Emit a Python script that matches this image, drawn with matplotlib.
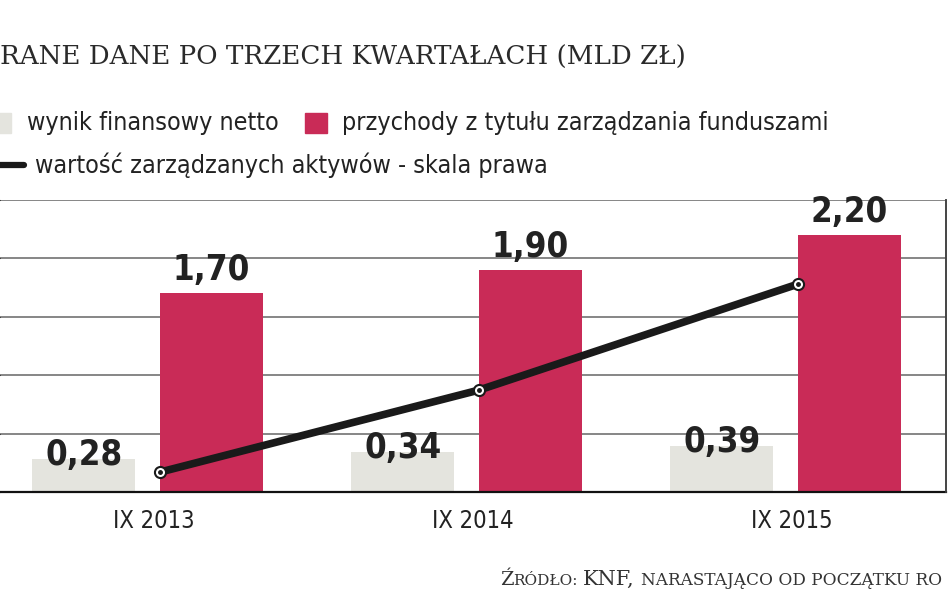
import matplotlib
matplotlib.use("Agg")
import matplotlib.pyplot as plt
import numpy as np
from matplotlib.patches import Rectangle
from matplotlib.lines import Line2D

# dane
kategorie = ["IX 2013", "IX 2014", "IX 2015"]
wynik_netto = [0.28, 0.34, 0.39]
przychody = [1.70, 1.90, 2.20]
aktywa = [206.8, 234.9, 271.2]   # skala prawa (mld zl), odczyt z wykresu

W, H = 948, 593
SANS = "DejaVu Sans"
SERIF = "DejaVu Serif"
STRETCH = "condensed"
SZARY = "#e4e4de"
CZERWONY = "#c92b57"
TXT = "#222222"

def fx(px):
    return px / W

def fy(py):
    return 1 - py / H

fig = plt.figure(figsize=(W / 100, H / 100), dpi=100)
ax = fig.add_axes([0, fy(492), 946 / W, (492 - 200) / H])

x = np.arange(len(kategorie))
bw = 0.323
ax.bar(x - 0.2, wynik_netto, bw, color=SZARY, zorder=2)
ax.bar(x + 0.2, przychody, bw, color=CZERWONY, zorder=2)

for xi, v in zip(x, wynik_netto):
    ax.annotate(f"{v:.2f}".replace(".", ","), (xi - 0.2, v), xytext=(0, -4.3),
                textcoords="offset points", ha="center", va="baseline",
                fontsize=25, fontweight="bold", family=SANS, fontstretch=STRETCH,
                color=TXT, zorder=5)
for xi, v in zip(x, przychody):
    ax.annotate(f"{v:.2f}".replace(".", ","), (xi + 0.2, v), xytext=(0, 9.4),
                textcoords="offset points", ha="center", va="baseline",
                fontsize=25, fontweight="bold", family=SANS, fontstretch=STRETCH,
                color=TXT, zorder=5)

ax.set_xlim(-0.462, 2.503)
ax.set_ylim(0, 2.5)
ax.set_yticks(np.arange(0, 2.51, 0.5))
ax.yaxis.grid(True, color="#666666", lw=1.1, zorder=1)
ax.tick_params(axis="y", left=False, labelleft=False)
ax.set_xticks(x + 0.02)
ax.set_xticklabels(kategorie, family=SANS, fontstretch=STRETCH, fontsize=17, color=TXT)
ax.tick_params(axis="x", length=0, pad=12)
for s in ["left", "top"]:
    ax.spines[s].set_visible(False)
ax.spines["bottom"].set_color("#111111")
ax.spines["bottom"].set_linewidth(1.6)
ax.spines["right"].set_color("#444444")
ax.spines["right"].set_linewidth(1.2)

ax2 = ax.twinx()
ax2.set_ylim(200, 300)
ax2.plot(x + 0.039, aktywa, color="#1a1a1a", lw=5.5, solid_capstyle="round", zorder=6)
ax2.plot(x + 0.039, aktywa, "o", ms=8, mfc="white", mec="#1a1a1a", mew=1.5, zorder=7)
ax2.plot(x + 0.039, aktywa, "o", ms=2.5, color="#1a1a1a", zorder=8)
ax2.set_yticks([])
for s in ["left", "top", "bottom"]:
    ax2.spines[s].set_visible(False)
ax2.spines["right"].set_color("#444444")
ax2.spines["right"].set_linewidth(1.2)

# tytul
fig.text(0, fy(57), "RANE DANE PO TRZECH KWARTAŁACH (MLD ZŁ)", family=SERIF,
         fontsize=18.8, color="#2a2a2a", ha="left", va="center")

# legenda
fig.add_artist(Rectangle((fx(-4), fy(133)), fx(15), 20 / H, color=SZARY, transform=fig.transFigure))
fig.add_artist(Rectangle((fx(305), fy(133)), fx(22), 20 / H, color=CZERWONY, transform=fig.transFigure))
fig.add_artist(Line2D([fx(-5), fx(24)], [fy(165), fy(165)], color="#1a1a1a", lw=4.5,
                      solid_capstyle="round", transform=fig.transFigure))
leg_kw = dict(family=SANS, fontstretch=STRETCH, fontsize=18, color=TXT, va="center")
fig.text(fx(27), fy(123), "wynik finansowy netto", **leg_kw)
fig.text(fx(342), fy(123), "przychody z tytułu zarządzania funduszami", **leg_kw)
fig.text(fx(35), fy(165), "wartość zarządzanych aktywów - skala prawa", **leg_kw)

# zrodlo (kapitaliki skladane z kawalkow)
fig.canvas.draw()
rend = fig.canvas.get_renderer()
kawalki = [("Ź", 14, 0), ("RÓDŁO:", 11, 5), ("KNF,", 15, 6), ("NARASTAJĄCO OD POCZĄTKU RO", 12.2, 0)]
xpos = 500
for tekst, rozm, odstep in kawalki:
    t = fig.text(fx(xpos), fy(585), tekst, family=SERIF, fontsize=rozm, color="#333333",
                 ha="left", va="baseline")
    bb = t.get_window_extent(rend)
    xpos = bb.x1 + odstep

fig.savefig("out.png", dpi=100, facecolor="white")
